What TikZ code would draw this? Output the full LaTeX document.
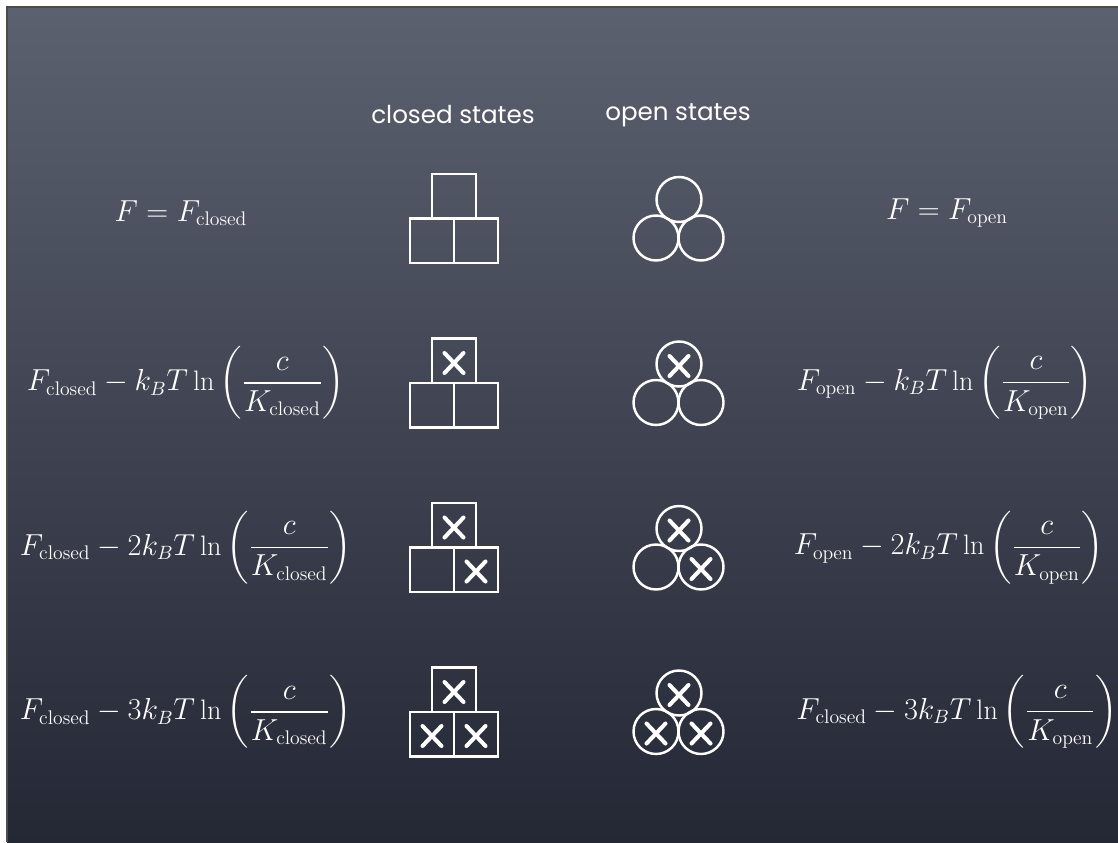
\documentclass[tikz,border=0pt]{standalone}
\usepackage{fontspec}
\newfontfamily\chalkfont{Poppins}
\usepackage{amsmath}
\usetikzlibrary{positioning}
\definecolor{boardtop}{RGB}{92,97,112}
\definecolor{boardbottom}{RGB}{36,39,52}

\begin{document}
\begin{tikzpicture}[x=0.02cm, y=-0.02cm,
    chalk/.style={draw=white, line width=1.4pt},
    cross/.style={draw=white, line width=2.3pt, line cap=round},
    formula/.style={text=white, font=\fontsize{16}{19}\selectfont},
    header/.style={text=white, font=\chalkfont\fontsize{14}{17}\selectfont}]
    \useasboundingbox (0,0) rectangle (1118,842);
    \fill[white] (0,0) rectangle (1118,842);
    \shade[top color=boardtop, bottom color=boardbottom] (7,7) rectangle (1118,842);
    \draw[black!70, line width=0.6pt] (1118,7) -- (7,7) -- (7,842);
    % column titles
    \node[header] (closedtitle) at (453,115) {closed states};
    \node[header] (opentitle) at (678,115) {open states};
    % the four binding states
    \foreach \r in {0,...,3} {
        \pgfmathsetmacro{\yy}{218.5+164.5*\r}
        \draw[chalk] (432,\yy-44.5) rectangle (476,\yy);
        \draw[chalk] (410,\yy) rectangle (454,\yy+44.5);
        \draw[chalk] (454,\yy) rectangle (498,\yy+44.5);
        \draw[chalk] (679,\yy-19) circle[radius=22.5];
        \draw[chalk] (656,\yy+19.5) circle[radius=22.5];
        \draw[chalk] (701,\yy+19.5) circle[radius=22.5];
        \foreach \k/\sx/\sy/\cx/\cy in {1/454/-20/679/-17, 2/476/24/701/21.5, 3/432/24/656/21.5} {
            \ifnum\k>\r \else
                \draw[cross] (\sx-9.5,\yy+\sy-10) -- (\sx+9.5,\yy+\sy+10)
                             (\sx-9.5,\yy+\sy+10) -- (\sx+9.5,\yy+\sy-10);
                \draw[cross] (\cx-9.5,\yy+\cy-10) -- (\cx+9.5,\yy+\cy+10)
                             (\cx-9.5,\yy+\cy+10) -- (\cx+9.5,\yy+\cy-10);
            \fi
        }
    }
    % free energies
    \node[formula] (fc0) at (181,213) {$F = F_{\rm closed}$};
    \node[formula] (fo0) at (947,213) {$F = F_{\rm open}$};
    \node[formula] (fc1) at (186,383) {$\displaystyle F_{\rm closed} - k_BT\ln\left(\frac{c}{K_{\rm closed}}\right)$};
    \node[formula] (fo1) at (945,383) {$\displaystyle F_{\rm open} - k_BT\ln\left(\frac{c}{K_{\rm open}}\right)$};
    \node[formula] (fc2) at (186,547.5) {$\displaystyle F_{\rm closed} - 2k_BT\ln\left(\frac{c}{K_{\rm closed}}\right)$};
    \node[formula] (fo2) at (949,547.5) {$\displaystyle F_{\rm open} - 2k_BT\ln\left(\frac{c}{K_{\rm open}}\right)$};
    \node[formula] (fc3) at (186,712) {$\displaystyle F_{\rm closed} - 3k_BT\ln\left(\frac{c}{K_{\rm closed}}\right)$};
    \node[formula] (fo3) at (957,712) {$\displaystyle F_{\rm closed} - 3k_BT\ln\left(\frac{c}{K_{\rm open}}\right)$};
\end{tikzpicture}
\end{document}
